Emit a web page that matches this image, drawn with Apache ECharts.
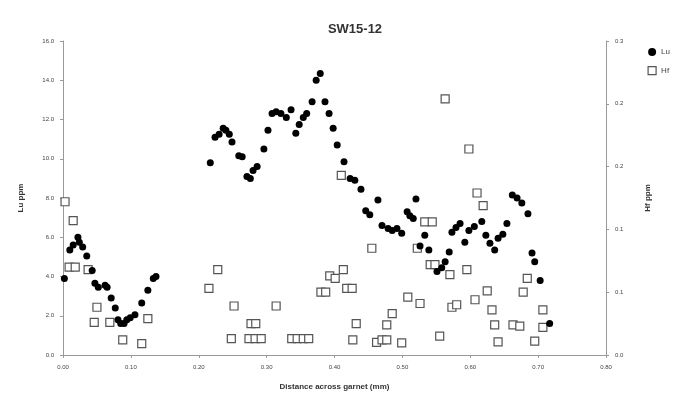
<!DOCTYPE html>
<html>
<head>
<meta charset="utf-8">
<script src="https://cdn.jsdelivr.net/npm/echarts@6/dist/echarts.min.js"></script>
<style>html,body{margin:0;padding:0;background:#fff}#c{width:679px;height:396px}</style>
</head>
<body>
<div id="c"></div>
<script>
const chartTitle = "SW15-12";
const xTitle = "Distance across garnet (mm)";
const yLeftTitle = "Lu ppm";
const yRightTitle = "Hf ppm";
const seriesNames = ["Lu", "Hf"];
const rightTickLabels = ["0.0", "0.1", "0.1", "0.2", "0.2", "0.3"];

const luX = [0.002,0.010,0.015,0.022,0.024,0.029,0.035,0.043,0.047,0.052,0.062,0.065,0.071,0.077,0.081,0.085,0.090,0.094,0.099,0.106,0.116,0.125,0.133,0.137,
  0.217,0.224,0.230,0.236,0.240,0.245,0.249,0.259,0.264,0.271,0.276,0.280,0.286,0.296,0.302,0.308,0.314,0.321,0.329,0.336,0.343,0.348,0.354,0.359,0.367,0.373,0.379,0.386,0.392,0.398,0.404,0.414,0.423,0.430,0.439,0.446,0.452,0.464,
  0.470,0.479,0.485,0.492,0.499,0.507,0.511,0.516,0.520,0.526,0.533,0.539,0.551,0.558,0.563,0.569,0.573,0.579,0.585,0.592,0.598,0.606,0.617,0.623,0.629,0.636,0.641,0.648,0.654,0.662,0.669,0.676,0.685,0.691,0.695,0.703,0.717];
const luY = [3.9,5.35,5.6,6.0,5.75,5.5,5.05,4.3,3.65,3.45,3.55,3.45,2.9,2.4,1.8,1.6,1.6,1.8,1.9,2.05,2.65,3.3,3.9,4.0,
  9.8,11.1,11.25,11.55,11.45,11.25,10.85,10.15,10.1,9.1,9.0,9.4,9.6,10.5,11.45,12.3,12.4,12.3,12.1,12.5,11.3,11.75,12.1,12.3,12.9,14.0,14.35,12.9,12.3,11.55,10.7,9.85,9.0,8.9,8.45,7.35,7.15,7.9,
  6.6,6.45,6.35,6.45,6.2,7.3,7.1,6.95,7.95,5.55,6.1,5.35,4.25,4.45,4.75,5.25,6.25,6.5,6.7,5.75,6.35,6.55,6.8,6.1,5.7,5.35,5.95,6.15,6.7,8.15,8.0,7.75,7.2,5.2,4.75,3.8,1.6];

const hfX = [0.003,0.015,0.009,0.018,0.037,0.050,0.046,0.069,0.088,0.116,0.125,
  0.215,0.228,0.252,0.277,0.284,0.248,0.274,0.283,0.292,0.314,0.337,0.345,0.354,0.362,0.380,0.387,0.393,0.401,0.413,0.418,0.426,0.410,0.432,0.427,
  0.455,0.462,0.470,0.477,0.477,0.485,0.499,0.508,0.522,0.526,0.533,0.544,0.541,0.548,0.555,0.563,0.570,0.573,0.580,0.595,0.598,0.607,0.610,0.619,0.625,0.632,0.636,0.641,0.663,0.673,0.678,0.684,0.695,0.707,0.707];
const hfY = [0.122,0.107,0.070,0.070,0.068,0.038,0.026,0.026,0.012,0.009,0.029,
  0.053,0.068,0.039,0.025,0.025,0.013,0.013,0.013,0.013,0.039,0.013,0.013,0.013,0.013,0.050,0.050,0.063,0.061,0.068,0.053,0.053,0.143,0.025,0.012,
  0.085,0.010,0.012,0.012,0.024,0.033,0.0096,0.046,0.085,0.041,0.106,0.106,0.072,0.072,0.015,0.204,0.064,0.038,0.040,0.068,0.164,0.044,0.129,0.119,0.051,0.036,0.024,0.0105,0.024,0.023,0.050,0.061,0.011,0.036,0.022];

const luData = luX.map((x, i) => [x, luY[i]]);
const hfData = hfX.map((x, i) => [x, hfY[i]]);

const txt = '#444';
const axisCol = '#9a9a9a';
const chart = echarts.init(document.getElementById('c'));
chart.setOption({
  animation: false,
  backgroundColor: '#fff',
  title: { text: chartTitle, left: 350, top: 18, textAlign: 'center',
    textStyle: { fontFamily: 'Liberation Sans', fontSize: 13, fontWeight: 'bold', color: '#333' } },
  legend: { right: 4, top: 43, orient: 'vertical', itemGap: 10, itemWidth: 8, itemHeight: 8,
    textStyle: { fontFamily: 'Liberation Sans', fontSize: 8, color: txt },
    data: [
      { name: seriesNames[0], icon: 'circle' },
      { name: seriesNames[1], icon: 'rect', itemStyle: { color: '#fff', borderColor: '#555', borderWidth: 1.2 } }
    ] },
  grid: { left: 63, right: 73, top: 41, bottom: 41 },
  xAxis: {
    type: 'value', min: 0, max: 0.8, interval: 0.1,
    name: xTitle, nameLocation: 'middle', nameGap: 28,
    nameTextStyle: { fontFamily: 'Liberation Sans', fontSize: 8, fontWeight: 'bold', color: '#333' },
    axisLine: { show: true, onZero: false, lineStyle: { color: axisCol } },
    axisTick: { show: true, length: 3, lineStyle: { color: axisCol } },
    axisLabel: { fontFamily: 'Liberation Sans', fontSize: 6, color: txt, margin: 9, formatter: v => v.toFixed(2) },
    splitLine: { show: false }
  },
  yAxis: [
    { type: 'value', min: 0, max: 16, interval: 2, position: 'left',
      name: yLeftTitle, nameLocation: 'middle', nameGap: 38, nameRotate: 90,
      nameTextStyle: { fontFamily: 'Liberation Sans', fontSize: 8, fontWeight: 'bold', color: '#333' },
      axisLine: { show: true, lineStyle: { color: axisCol } },
      axisTick: { show: true, length: 3, lineStyle: { color: axisCol } },
      axisLabel: { fontFamily: 'Liberation Sans', fontSize: 6, color: txt, margin: 9, formatter: v => v.toFixed(1) },
      splitLine: { show: false } },
    { type: 'value', min: 0, max: 0.25, interval: 0.05, position: 'right',
      name: yRightTitle, nameLocation: 'middle', nameGap: 38, nameRotate: 90,
      nameTextStyle: { fontFamily: 'Liberation Sans', fontSize: 8, fontWeight: 'bold', color: '#333' },
      axisLine: { show: true, lineStyle: { color: axisCol } },
      axisTick: { show: true, length: 3, lineStyle: { color: axisCol } },
      axisLabel: { fontFamily: 'Liberation Sans', fontSize: 6, color: txt, margin: 9,
        formatter: (v) => rightTickLabels[Math.round(v / 0.05)] },
      splitLine: { show: false } }
  ],
  series: [
    { name: seriesNames[1], type: 'scatter', yAxisIndex: 1, data: hfData, symbol: 'rect', symbolSize: 8,
      itemStyle: { color: '#fff', borderColor: '#555', borderWidth: 1.2, opacity: 1 }, z: 2 },
    { name: seriesNames[0], type: 'scatter', yAxisIndex: 0, data: luData, symbol: 'circle', symbolSize: 7,
      itemStyle: { color: '#000', opacity: 1 }, z: 3 }
  ]
});
</script>
</body>
</html>
